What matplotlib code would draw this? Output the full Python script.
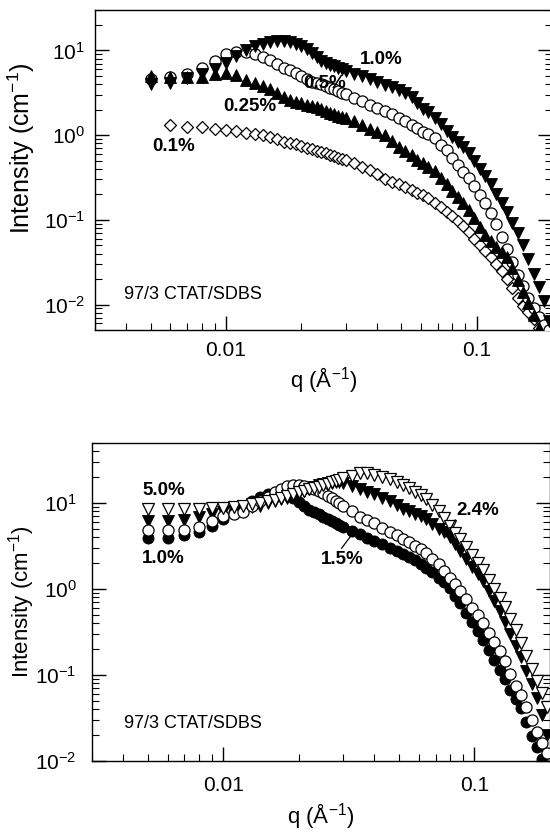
import numpy as np
import matplotlib
matplotlib.use('Agg')
import matplotlib.pyplot as plt
from matplotlib.ticker import LogLocator, FixedLocator, NullFormatter, FuncFormatter

plt.rcParams['font.family'] = ['Liberation Sans', 'DejaVu Sans']
plt.rcParams['mathtext.fontset'] = 'custom'
plt.rcParams['mathtext.rm'] = 'Liberation Sans'
plt.rcParams['mathtext.default'] = 'regular'

nan = np.nan

# scattering vector q (1/Angstrom)
q = [0.005, 0.006, 0.007, 0.008, 0.009, 0.010, 0.011, 0.012, 0.013, 0.014,
     0.015, 0.016, 0.017, 0.018, 0.019, 0.020, 0.021, 0.022, 0.023, 0.024,
     0.025, 0.026, 0.027, 0.028, 0.029, 0.030, 0.0325, 0.035, 0.0375, 0.040,
     0.043, 0.046, 0.049, 0.052, 0.055, 0.058, 0.061, 0.064, 0.068, 0.072,
     0.076, 0.080, 0.084, 0.088, 0.093, 0.098, 0.103, 0.108, 0.114, 0.120,
     0.126, 0.132, 0.139, 0.146, 0.153, 0.161, 0.169, 0.177, 0.186, 0.195]

# ---- top panel (97/3 CTAT/SDBS, dilute) ----
top_1p0 = [4.03, 4.14, 4.71, 5.29, 6.07, 7.15, 8.54, 10.06, 11.21, 12.01,
           12.48, 12.85, 12.8, 12.68, 12.01, 11.28, 10.33, 9.3, 8.3, 7.55,
           7.05, 6.76, 6.48, 6.20, 5.95, 5.74, 5.26, 4.94, 4.55, 4.22,
           3.88, 3.67, 3.37, 3.11, 2.85, 2.40, 2.06, 1.87, 1.61, 1.34,
           1.13, 0.96, 0.83, 0.73, 0.615, 0.50, 0.40, 0.332, 0.264, 0.204,
           0.160, 0.123, 0.0916, 0.0693, 0.0504, 0.034, 0.0232, 0.0161, 0.0110, 0.0064]
top_0p5 = [4.62, 4.88, 5.29, 6.23, 7.55, 9.01, 9.60, 9.70, 9.14, 8.35,
           7.65, 6.95, 6.28, 5.79, 5.34, 4.92, 4.55, 4.29, 4.13, 3.97,
           3.83, 3.63, 3.46, 3.31, 3.16, 3.03, 2.75, 2.50, 2.28, 2.11,
           1.94, 1.79, 1.61, 1.45, 1.31, 1.20, 1.10, 1.02, 0.92, 0.77,
           0.66, 0.54, 0.44, 0.366, 0.313, 0.251, 0.196, 0.156, 0.120, 0.089,
           0.0625, 0.0447, 0.0316, 0.0224, 0.0164, 0.0120, 0.0090, 0.0071, 0.0058, 0.0050]
top_0p25 = [5.0, 4.9, 4.8, 4.9, 5.2, 5.36, 5.08, 4.49, 4.14, 3.81,
            3.49, 3.11, 2.79, 2.60, 2.46, 2.38, 2.29, 2.22, 2.15, 2.03,
            1.93, 1.83, 1.76, 1.69, 1.64, 1.59, 1.45, 1.33, 1.19, 1.09,
            0.99, 0.86, 0.73, 0.65, 0.58, 0.51, 0.466, 0.42, 0.374, 0.309,
            0.262, 0.22, 0.187, 0.159, 0.131, 0.104, 0.0826, 0.0667, 0.0556, 0.048,
            0.0419, 0.0367, 0.0271, 0.0196, 0.0142, 0.0104, 0.0076, 0.0053, nan, nan]
top_0p1 = [nan, 1.31, 1.26, 1.24, 1.19, 1.15, 1.11, 1.07, 1.04, 0.99,
           0.94, 0.89, 0.84, 0.81, 0.78, 0.74, 0.71, 0.68, 0.65, 0.63,
           0.61, 0.58, 0.56, 0.54, 0.52, 0.51, 0.463, 0.421, 0.392, 0.352,
           0.306, 0.279, 0.262, 0.243, 0.226, 0.209, 0.194, 0.180, 0.160, 0.141,
           0.124, 0.111, 0.0962, 0.0839, 0.0711, 0.0597, 0.0505, 0.0432, 0.0361, 0.0301,
           0.0250, 0.0201, 0.0155, 0.0118, 0.0096, 0.0081, 0.0067, 0.0053, nan, nan]

# ---- bottom panel (97/3 CTAT/SDBS, concentrated) ----
bot_5p0 = [8.62, 8.62, 8.62, 8.62, 8.69, 8.80, 8.97, 9.33, 9.71, 10.05,
           10.43, 10.92, 11.42, 11.95, 12.60, 13.29, 13.90, 14.39, 14.94, 15.58,
           16.26, 16.83, 17.47, 18.08, 18.67, 19.32, 20.87, 22.42, 22.60, 21.43,
           20.11, 18.82, 17.42, 16.13, 14.85, 13.57, 12.30, 11.15, 9.58, 7.98,
           6.70, 5.46, 4.54, 3.80, 3.05, 2.47, 2.02, 1.65, 1.28, 1.00,
           0.794, 0.622, 0.448, 0.330, 0.237, 0.166, 0.117, 0.0862, 0.0622, 0.0429]
bot_2p4 = [6.15, 6.15, 6.40, 6.84, 7.37, 7.88, 8.11, 8.46, 8.97, 9.31,
           9.89, 10.55, 11.03, 11.54, 12.24, 13.15, 13.94, 14.66, 15.42, 16.17,
           16.61, 17.01, 17.33, 17.51, 17.37, 17.05, 15.75, 14.43, 13.50, 12.74,
           11.54, 10.52, 9.48, 8.60, 8.08, 7.54, 7.00, 6.45, 5.71, 5.01,
           4.57, 4.04, 3.30, 2.74, 2.21, 1.80, 1.49, 1.23, 0.946, 0.718,
           0.552, 0.416, 0.298, 0.218, 0.161, 0.112, 0.0779, 0.0537, 0.0343, 0.0203]
bot_1p5 = [4.84, 4.84, 4.91, 5.23, 6.13, 7.06, 7.37, 7.96, 9.23, 10.66,
           11.89, 13.47, 14.62, 15.62, 16.17, 16.09, 15.83, 15.17, 14.47, 13.83,
           13.04, 12.20, 11.36, 10.66, 9.97, 9.33, 8.00, 6.93, 6.40, 5.88,
           5.19, 4.63, 4.21, 3.85, 3.49, 3.15, 2.92, 2.60, 2.24, 1.95,
           1.63, 1.35, 1.13, 0.956, 0.759, 0.608, 0.495, 0.399, 0.308, 0.241,
           0.191, 0.144, 0.102, 0.075, 0.058, 0.0419, 0.0297, 0.0218, 0.0164, 0.0123]
bot_1p0 = [3.97, 3.97, 4.23, 4.63, 5.37, 6.50, 7.83, 9.14, 10.57, 11.85,
           12.70, 13.01, 12.94, 12.64, 11.45, 10.16, 9.19, 8.37, 7.91, 7.45,
           6.91, 6.52, 6.15, 5.82, 5.51, 5.27, 4.75, 4.32, 3.96, 3.65,
           3.31, 3.03, 2.79, 2.57, 2.39, 2.15, 1.94, 1.76, 1.56, 1.34,
           1.20, 1.02, 0.83, 0.691, 0.531, 0.413, 0.324, 0.256, 0.196, 0.151,
           0.115, 0.0887, 0.0668, 0.0522, 0.0412, 0.0283, 0.0196, 0.0147, 0.0105, nan]

x_ticks = [0.01, 0.1]
x_ticklabels = ['0.01', '0.1']
sample_text = '97/3 CTAT/SDBS'

fig = plt.figure(figsize=(5.5, 8.38), dpi=100)
ax1 = fig.add_axes([0.1727, 0.6062, 0.8309, 0.3819])
ax2 = fig.add_axes([0.1673, 0.0919, 0.8327, 0.3795])


def style_axis(ax, ylim, xpad, ypad, ylabel_size):
    ax.set_xscale('log')
    ax.set_yscale('log')
    ax.set_xlim(0.003, 0.2)
    ax.set_ylim(*ylim)
    ax.xaxis.set_major_locator(FixedLocator(x_ticks))
    ax.xaxis.set_major_formatter(FuncFormatter(
        lambda v, p: dict(zip(x_ticks, x_ticklabels)).get(v, '')))
    ax.xaxis.set_minor_locator(LogLocator(base=10, subs=np.arange(2, 10), numticks=20))
    ax.xaxis.set_minor_formatter(NullFormatter())
    ax.yaxis.set_major_locator(LogLocator(base=10, numticks=20))
    ax.yaxis.set_minor_locator(LogLocator(base=10, subs=np.arange(2, 10), numticks=20))
    ax.yaxis.set_minor_formatter(NullFormatter())
    ax.tick_params(which='both', direction='in', top=False, right=True,
                   labelsize=15, width=1.0)
    ax.tick_params(which='major', length=10)
    ax.tick_params(which='minor', length=5, width=0.8)
    ax.tick_params(axis='x', which='major', pad=xpad)
    ax.tick_params(axis='y', which='major', pad=ypad)
    for s in ax.spines.values():
        s.set_linewidth(1.0)
    ax.set_xlabel('q (Å$^{-1}$)', fontsize=16, labelpad=4)
    ax.set_ylabel('Intensity (cm$^{-1}$)', fontsize=ylabel_size)


style_axis(ax1, (0.005, 30), 8, 7, 18)
style_axis(ax2, (0.01, 50), 11, 11, 16)
ax1.yaxis.set_label_coords(-0.127, 0.569)
ax2.yaxis.set_label_coords(-0.12, 0.5)

open_kw = dict(ls='none', mfc='white', mec='black', mew=0.9)
fill_kw = dict(ls='none', mfc='black', mec='black', mew=0.6)

# top panel
ax1.plot(q, top_0p1, marker='D', ms=6.3, zorder=2, **open_kw)
ax1.plot(q, top_0p5, marker='o', ms=8.0, zorder=3, **open_kw)
ax1.plot(q, top_0p25, marker='^', ms=8.5, zorder=4, **fill_kw)
ax1.plot(q, top_1p0, marker='v', ms=8.5, zorder=5, **fill_kw)

bold = dict(fontsize=13.5, fontweight='bold', ha='center', va='center')
ax1.text(0.627, 0.844, '1.0%', transform=ax1.transAxes, zorder=6, **bold)
ax1.text(0.503, 0.769, '0.5%', transform=ax1.transAxes, zorder=6, **bold)
ax1.text(0.339, 0.697, '0.25%', transform=ax1.transAxes, zorder=6, **bold)
ax1.text(0.172, 0.572, '0.1%', transform=ax1.transAxes, zorder=6, **bold)
ax1.text(0.0635, 0.1125, sample_text, transform=ax1.transAxes,
         fontsize=13, ha='left', va='center')

# bottom panel
ax2.plot(q, bot_1p0, marker='o', ms=8.0, zorder=2, **fill_kw)
ax2.plot(q, bot_2p4, marker='v', ms=8.5, zorder=3, **fill_kw)
ax2.plot(q, bot_1p5, marker='o', ms=8.0, zorder=4, **open_kw)
ax2.plot(q, bot_5p0, marker='v', ms=8.0, zorder=5, **open_kw)

ax2.text(0.156, 0.852, '5.0%', transform=ax2.transAxes, zorder=6, **bold)
ax2.text(0.156, 0.638, '1.0%', transform=ax2.transAxes, zorder=6, **bold)
ax2.text(0.842, 0.789, '2.4%', transform=ax2.transAxes, zorder=6, **bold)
ax2.text(0.547, 0.635, '1.5%', transform=ax2.transAxes, zorder=6, **bold)
ax2.plot([0.774, 0.793], [0.705, 0.758], transform=ax2.transAxes,
         color='black', lw=0.9, zorder=6)
ax2.plot([0.545, 0.567], [0.669, 0.711], transform=ax2.transAxes,
         color='black', lw=0.9, zorder=6)
ax2.text(0.070, 0.119, sample_text, transform=ax2.transAxes,
         fontsize=13, ha='left', va='center')

fig.savefig('out.png', dpi=100)
